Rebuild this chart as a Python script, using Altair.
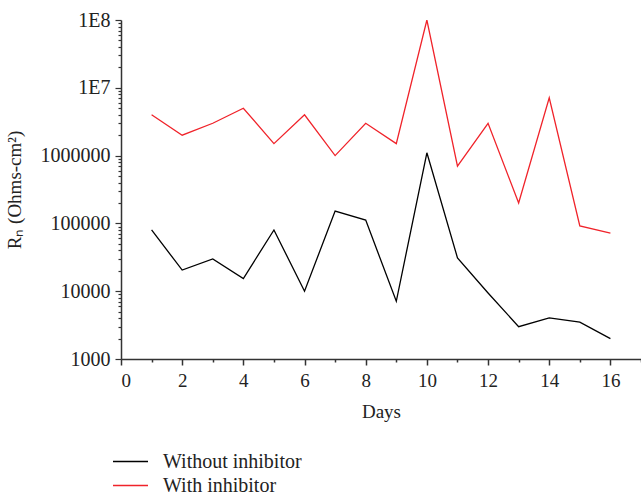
import altair as alt
import pandas as pd

days = list(range(1, 17))
without_inhibitor = [80000, 20500, 30000, 15400, 80000, 10000, 152000, 112000,
                     7100, 1100000, 31000, 9400, 3000, 4050, 3500, 2000]
with_inhibitor = [4000000, 2000000, 3000000, 5000000, 1500000, 4000000, 1000000, 3000000,
                  1500000, 100000000, 700000, 3000000, 200000, 7100000, 92000, 72000]
series_names = ["Without inhibitor", "With inhibitor"]
series_colors = ["#000000", "#f0232a"]

major_y = [1000, 10000, 100000, 1000000, 10000000, 100000000]
minor_mult = [2, 3, 4, 5, 6, 7, 8, 9]
y_tick_values = sorted(major_y + [m * d for d in major_y[:-1] for m in minor_mult])
x_tick_values = list(range(0, 18))

rows = []
for d, a, b in zip(days, without_inhibitor, with_inhibitor):
    rows.append({"day": d, "value": a, "series": series_names[0]})
    rows.append({"day": d, "value": b, "series": series_names[1]})
df = pd.DataFrame(rows)

FONT = "Liberation Serif"
is_major_y = "indexof([1000,10000,100000,1000000,10000000,100000000], datum.value) >= 0"

chart = alt.Chart(df).mark_line(strokeWidth=1.3, clip=True).encode(
    x=alt.X(
        "day:Q",
        scale=alt.Scale(domain=[0, 17], nice=False, zero=False),
        axis=alt.Axis(
            title="Days",
            values=x_tick_values,
            labelExpr="datum.value % 2 == 0 && datum.value <= 16 ? datum.label : ''",
            tickSize={"condition": {"test": "datum.value % 2 == 0", "value": 6}, "value": 3},
            grid=False,
            domainColor="#333333",
            domainWidth=1.5,
            tickColor="#333333",
            tickWidth=1.5,
            labelFont=FONT,
            labelFontSize=19,
            labelColor="#222222",
            labelPadding=6,
            titleFont=FONT,
            titleFontSize=19,
            titleFontWeight="normal",
            titleColor="#222222",
            titlePadding=12,
        ),
    ),
    y=alt.Y(
        "value:Q",
        scale=alt.Scale(type="log", domain=[1000, 100000000], nice=False),
        axis=alt.Axis(
            title="Rₙ (Ohms-cm²)",
            values=y_tick_values,
            labelExpr=(
                "datum.value == 100000000 ? '1E8' : datum.value == 10000000 ? '1E7' : ("
                + is_major_y + " ? format(datum.value, 'd') : '')"
            ),
            tickSize={"condition": {"test": is_major_y, "value": 6}, "value": 3},
            grid=False,
            domainColor="#333333",
            domainWidth=1.5,
            tickColor="#333333",
            tickWidth=1.2,
            labelFont=FONT,
            labelFontSize=20,
            labelColor="#222222",
            labelPadding=5,
            labelOverlap=False,
            titleFont=FONT,
            titleFontSize=19,
            titleFontWeight="normal",
            titleColor="#222222",
            titlePadding=16,
        ),
    ),
    color=alt.Color(
        "series:N",
        scale=alt.Scale(domain=series_names, range=series_colors),
        legend=alt.Legend(
            title=None,
            orient="none",
            legendX=-9,
            legendY=91 + 339,
            symbolType="stroke",
            symbolSize=1225,
            symbolStrokeWidth=1.3,
            labelFont=FONT,
            labelFontSize=20,
            labelColor="#222222",
            labelOffset=14,
            clipHeight=23,
            rowPadding=1,
            padding=0,
        ),
    ),
).properties(
    width=520,
    height=339,
    padding={"left": 121, "top": 20, "right": 0, "bottom": 138},
    autosize=alt.AutoSizeParams(type="none"),
).configure_view(stroke=None)

chart.save("out.html", embed_options={"renderer": "svg", "actions": False})
